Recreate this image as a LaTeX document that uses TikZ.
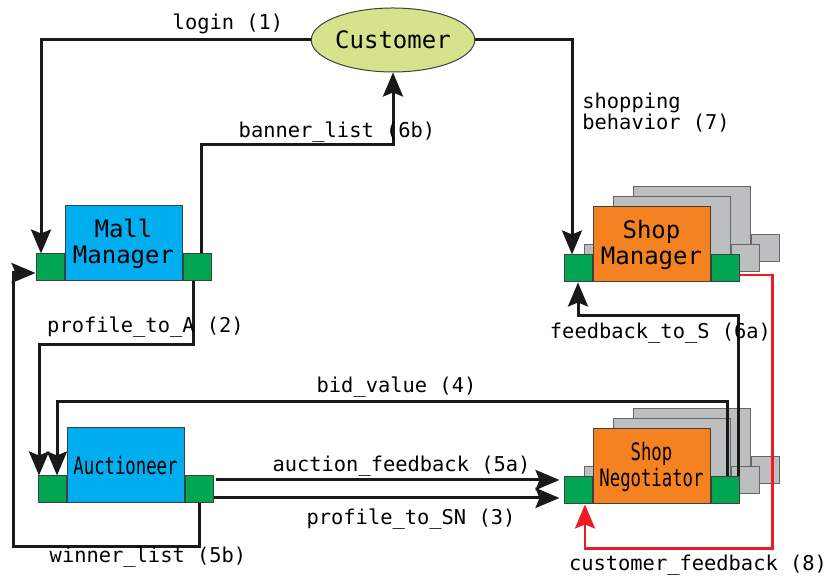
\documentclass[tikz,border=0pt]{standalone}
\usepackage{fontspec}
\setmonofont{DejaVu Sans Mono}
\usetikzlibrary{arrows.meta,shapes.geometric,calc}

\definecolor{custgreen}{HTML}{D6E38C}
\definecolor{agentblue}{HTML}{00AEEF}
\definecolor{agentorange}{HTML}{F58220}
\definecolor{portgreen}{HTML}{00A651}
\definecolor{copygray}{HTML}{BCBEC0}
\definecolor{fbred}{HTML}{ED1C24}

% squeezed text for the long agent names
\newcommand{\narrowtext}[1]{\scalebox{0.72}[1]{#1}}

\begin{document}
\begin{tikzpicture}
  [x=0.5pt,y=0.5pt,
   agent/.style={draw=black!75,line width=0.5pt,minimum width=58.5pt,minimum height=37.5pt,
     inner sep=0pt,align=center,font=\ttfamily\fontsize{12}{13}\selectfont},
   port/.style={draw=black!75,line width=0.5pt,fill=portgreen,minimum width=14pt,
     minimum height=13.5pt,inner sep=0pt},
   copybox/.style={draw=black!60,line width=0.5pt,fill=copygray,minimum width=58.5pt,
     minimum height=37.5pt,inner sep=0pt},
   copyport/.style={copybox,minimum width=14pt,minimum height=13.5pt},
   msg/.style={line width=1.5pt,draw=black!90,-{Stealth[length=12pt,width=10pt,inset=2pt]}},
   feedback/.style={msg,draw=fbred,line width=1.2pt},
   lbl/.style={inner sep=0pt,font=\ttfamily\fontsize{10.2}{10.5}\selectfont}]
  \useasboundingbox (0,0) rectangle (832,581);

  % stacked copies behind the shop agents
  \foreach \d in {40,20} {
    \node[copybox] (smc\d) at (651.5+\d,336.5+\d/2) {};
    \node[copyport,anchor=south east] at (smc\d.south west) {};
    \node[copyport,anchor=south west] at (smc\d.south east) {};
    \node[copybox] (ngc\d) at (651.5+\d,114.5+\d/2) {};
    \node[copyport,anchor=south east] at (ngc\d.south west) {};
    \node[copyport,anchor=south west] at (ngc\d.south east) {};
  }

  % agents
  \node[ellipse,draw=black!75,line width=0.5pt,fill=custgreen,minimum width=74pt,
    minimum height=32pt,inner sep=0pt,font=\ttfamily\fontsize{12}{13}\selectfont]
    (customer) at (393,541) {Customer};
  \node[agent,fill=agentblue] (mall) at (123.5,337.5) {Mall\\Manager};
  \node[agent,fill=agentblue] (auct) at (125.5,115.5) {\narrowtext{Auctioneer}};
  \node[agent,fill=agentorange] (shopmgr) at (651.5,336.5) {Shop\\Manager};
  \node[agent,fill=agentorange] (shopneg) at (651.5,114.5)
    {\narrowtext{Shop}\\\narrowtext{Negotiator}};

  % ports
  \node[port,anchor=south east] (mallL) at (mall.south west) {};
  \node[port,anchor=south west] (mallR) at (mall.south east) {};
  \node[port,anchor=south east] (auL) at (auct.south west) {};
  \node[port,anchor=south west] (auR) at (auct.south east) {};
  \node[port,anchor=south east] (smL) at (shopmgr.south west) {};
  \node[port,anchor=south west] (smR) at (shopmgr.south east) {};
  \node[port,anchor=south east] (ngL) at (shopneg.south west) {};
  \node[port,anchor=south west] (ngR) at (shopneg.south east) {};

  % messages
  \draw[msg] (customer.west) -| ($(mallL.north)+(-9,0)$);
  \draw[msg] ($(mallR.north)+(4,0)$) |- ($(customer.south)+(0,-72)$) -- (customer.south);
  \draw[msg] (customer.east) -| ($(smL.north)+(-6,0)$);
  \draw[msg] ($(mallR.south)+(-4,0)$) |- ($(auL.north)+(-13,131)$) -- ($(auL.north)+(-13,0)$);
  \draw[msg] ($(ngR.north)+(2,0)$) -- ($(ngR.north)+(2,75)$) -| ($(auL.north)+(5,0)$);
  \draw[msg] ($(ngR.north)+(13,0)$) -- ($(ngR.north)+(13,161)$) -| (smL.south);
  \draw[msg,shorten >=2pt] ($(auR.east)+(2,9.5)$) coordinate (a5) -- (a5 -| ngL.west);
  \draw[msg,shorten >=2pt] ($(auR.east)+(0,-8.5)$) coordinate (a3) -- (a3 -| ngL.west);
  \draw[msg] (auR.south) |- ++(-186,-43) |- ($(mallL.west)+(0,-5.5)$);
  \draw[feedback] ($(smR.east)+(0,-6.5)$) -- ++(33,0) |- ($(ngL.south)+(7,-44)$)
    -- ($(ngL.south)+(7,0)$);

  % message labels
  \node[lbl] (l1) at (228,557) {login (1)};
  \node[lbl] (l6b) at (337,449) {banner\_list (6b)};
  \node[lbl,anchor=west,align=left] (l7) at (582,468) {shopping\\behavior (7)};
  \node[lbl] (l2) at (145.5,254) {profile\_to\_A (2)};
  \node[lbl] (l4) at (396.5,194) {bid\_value (4)};
  \node[lbl] (l6a) at (660.5,248) {feedback\_to\_S (6a)};
  \node[lbl] (l5a) at (401.5,114.5) {auction\_feedback (5a)};
  \node[lbl] (l3) at (411,61.5) {profile\_to\_SN (3)};
  \node[lbl] (l5b) at (148,23.5) {winner\_list (5b)};
  \node[lbl] (l8) at (698,15.5) {customer\_feedback (8)};
\end{tikzpicture}
\end{document}
